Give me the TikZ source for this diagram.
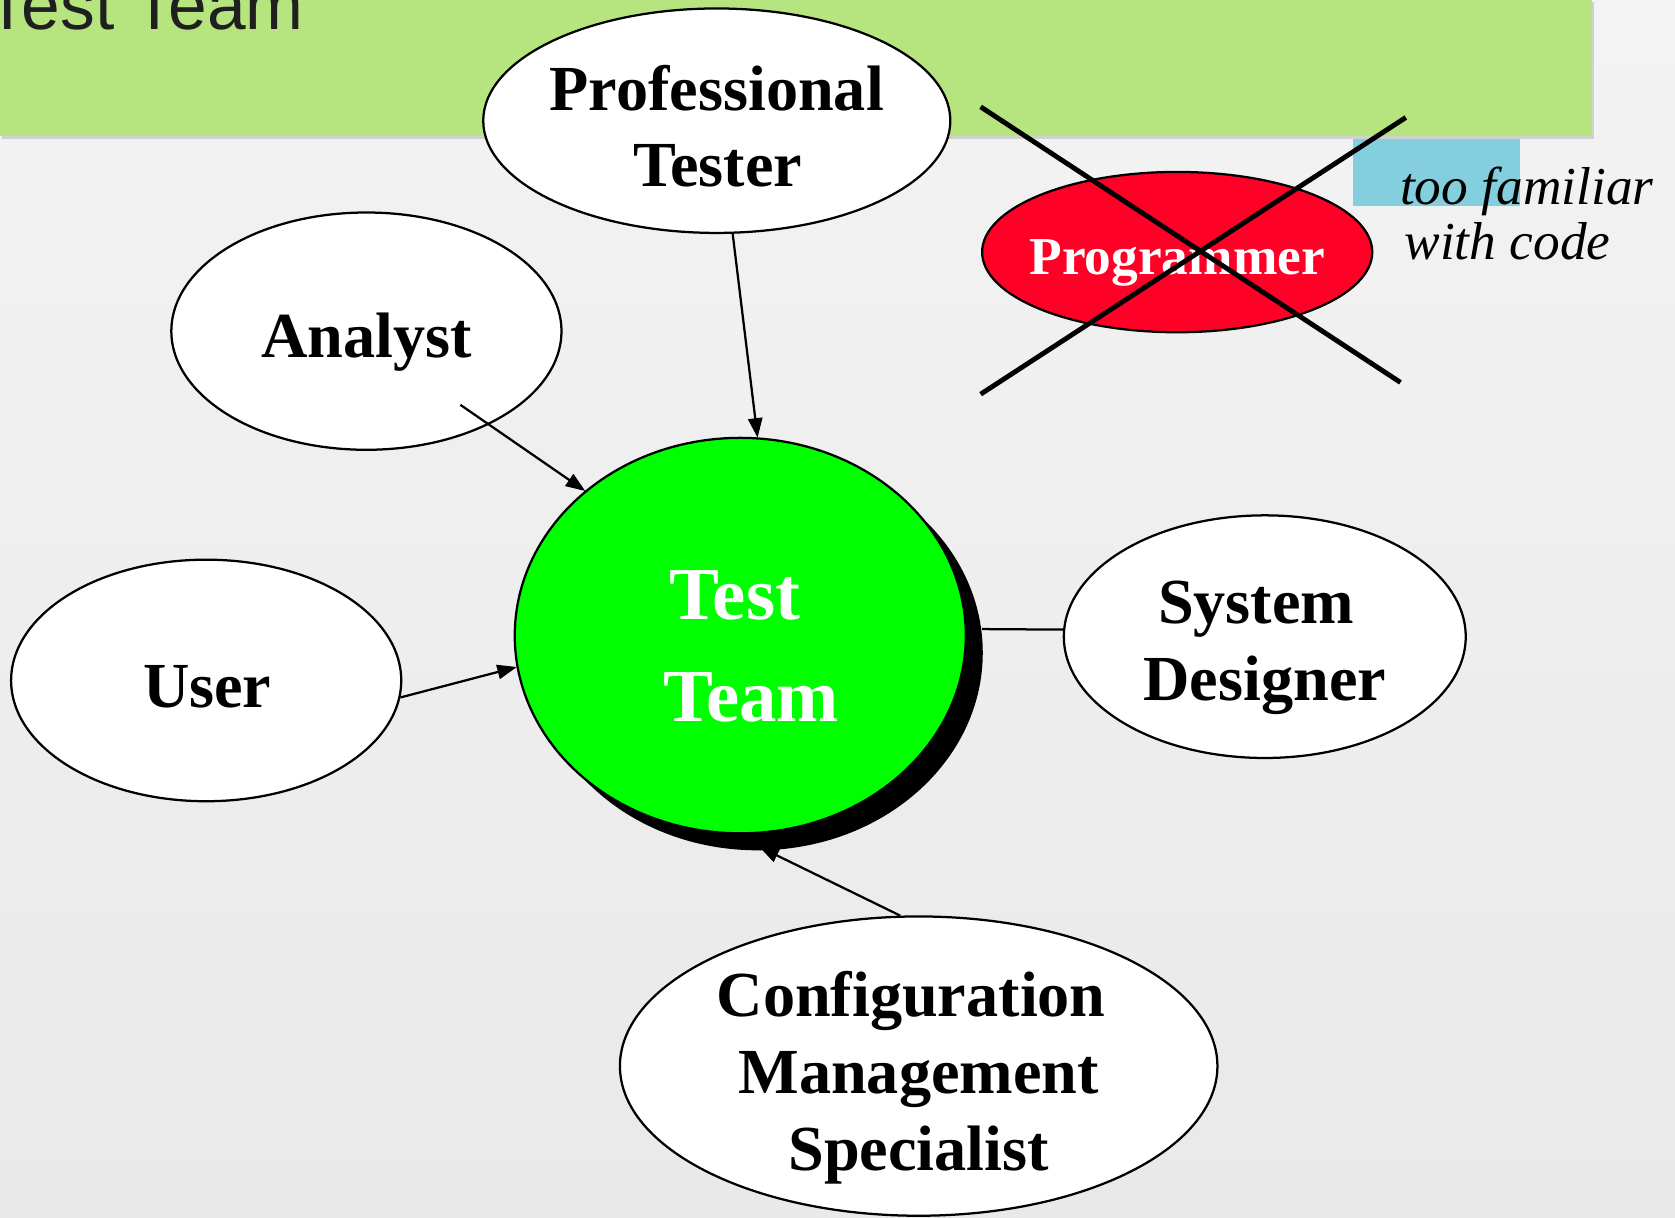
\documentclass[tikz,border=0pt]{standalone}
\usepackage{fontspec}
\setmainfont{Liberation Serif}
\newfontfamily\titlefont{Liberation Sans}
\usetikzlibrary{shapes.geometric,arrows.meta,calc}
\definecolor{bannergreen}{RGB}{182,229,127}
\definecolor{notecyan}{RGB}{131,207,221}
\definecolor{teamgreen}{RGB}{0,255,0}
\definecolor{progred}{RGB}{255,0,38}
\definecolor{bgtop}{RGB}{243,243,243}
\definecolor{bgbot}{RGB}{233,233,233}
\tikzset{
  oval/.style={ellipse, draw=black, line width=0.6pt, fill=white, inner sep=0pt},
  lbl/.style={anchor=base, inner sep=0pt, font=\bfseries\fontsize{17.1}{20}\selectfont},
  teamlbl/.style={anchor=base, inner sep=0pt, text=white, font=\bfseries\fontsize{19.9}{24}\selectfont},
  proglbl/.style={anchor=base, inner sep=0pt, text=white, font=\bfseries\fontsize{14.2}{17}\selectfont},
  notelbl/.style={anchor=base west, inner sep=0pt, font=\itshape\fontsize{14.2}{17}\selectfont},
  conn/.style={draw=black, line width=0.6pt},
  arr/.style={conn, -{Triangle[length=5.2pt,width=3.8pt]}},
  crossline/.style={draw=black, line width=1.3pt}
}
\begin{document}
\begin{tikzpicture}[x=0.01cm,y=-0.01cm]
\useasboundingbox (0,0) rectangle (1568,1140);
\begin{scope}
\clip (0,0) rectangle (1568,1140);
% background
\shade[top color=bgtop, bottom color=bgbot] (0,0) rectangle (1568,1140);
% note rectangle and banner
\fill[notecyan] (1267,120) rectangle (1423,193);
\fill[black!18] (2,2) rectangle (1492,130);
\fill[bannergreen] (0,0) rectangle (1490,127);
\node[anchor=base west, inner sep=0pt, text=black!88, font=\titlefont\fontsize{18.5}{22}\selectfont] (title) at (-13,28) {Test Team};

% outer ellipses
\node[oval, minimum width=4.37cm, minimum height=2.10cm] (prof) at (671,113) {};
\node[oval, minimum width=3.65cm, minimum height=2.22cm] (analyst) at (343,310) {};
\node[oval, minimum width=3.65cm, minimum height=2.26cm] (user) at (193,637) {};
\node[oval, minimum width=3.76cm, minimum height=2.27cm] (sysd) at (1184,596) {};
\node[oval, minimum width=5.59cm, minimum height=2.80cm] (config) at (860,998) {};
\node[oval, fill=progred, minimum width=3.65cm, minimum height=1.50cm] (prog) at (1102,236) {};

% labels
\node[lbl] (prof1) at (671,103) {Professional};
\node[lbl] (prof2) at (672,175) {Tester};
\node[lbl] (analystlbl) at (343,335) {Analyst};
\node[lbl] (userlbl) at (194,662) {User};
\node[lbl] (sysd1) at (1176,584) {System};
\node[lbl] (sysd2) at (1184,656) {Designer};
\node[lbl] (config1) at (853,952) {Configuration};
\node[lbl] (config2) at (860,1024) {Management};
\node[lbl] (config3) at (860,1096) {Specialist};
\node[proglbl] (proglbl) at (1102,257) {Programmer};

% team shadow (named for the connector that meets it)
\node[ellipse, inner sep=0pt, minimum width=4.22cm, minimum height=3.70cm] (teamshadow) at (709,611) {};
\node[ellipse, inner sep=0pt, minimum width=4.22cm, minimum height=3.70cm] (teampos) at (693,595) {};

% connectors
\coordinate (astart) at ($(analyst)+(88,69)$);
\draw[arr] (prof.-82) -- (teampos.85.5);
\draw[arr] (astart) -- (teampos.137.4);
\draw[arr] (user.-5.4) -- (teampos.188.2);
\draw[conn] (sysd.178) -- (teamshadow.6);
\draw[arr, shorten >=-2.5pt] (config.97.5) -- (teamshadow.-87);

% Test Team circle with shadow
\fill[black] (teamshadow.center) ellipse [x radius=211, y radius=185];
\node[ellipse, draw=black, line width=0.6pt, fill=teamgreen, inner sep=0pt, minimum width=4.22cm, minimum height=3.70cm] (team) at (693,595) {};
\node[teamlbl] (team1) at (688,580) {Test};
\node[teamlbl] (team2) at (703,675) {Team};

% cross over programmer
\coordinate (x1) at (918,100);
\coordinate (x2) at (1311,358);
\coordinate (x3) at (918,369);
\coordinate (x4) at (1316,110);
\draw[crossline] (x1) -- (x2);
\draw[crossline] (x3) -- (x4);

% note text
\node[notelbl] (note1) at (1310,191) {too familiar};
\node[notelbl] (note2) at (1314,243) {with code};
\end{scope}
\end{tikzpicture}
\end{document}
